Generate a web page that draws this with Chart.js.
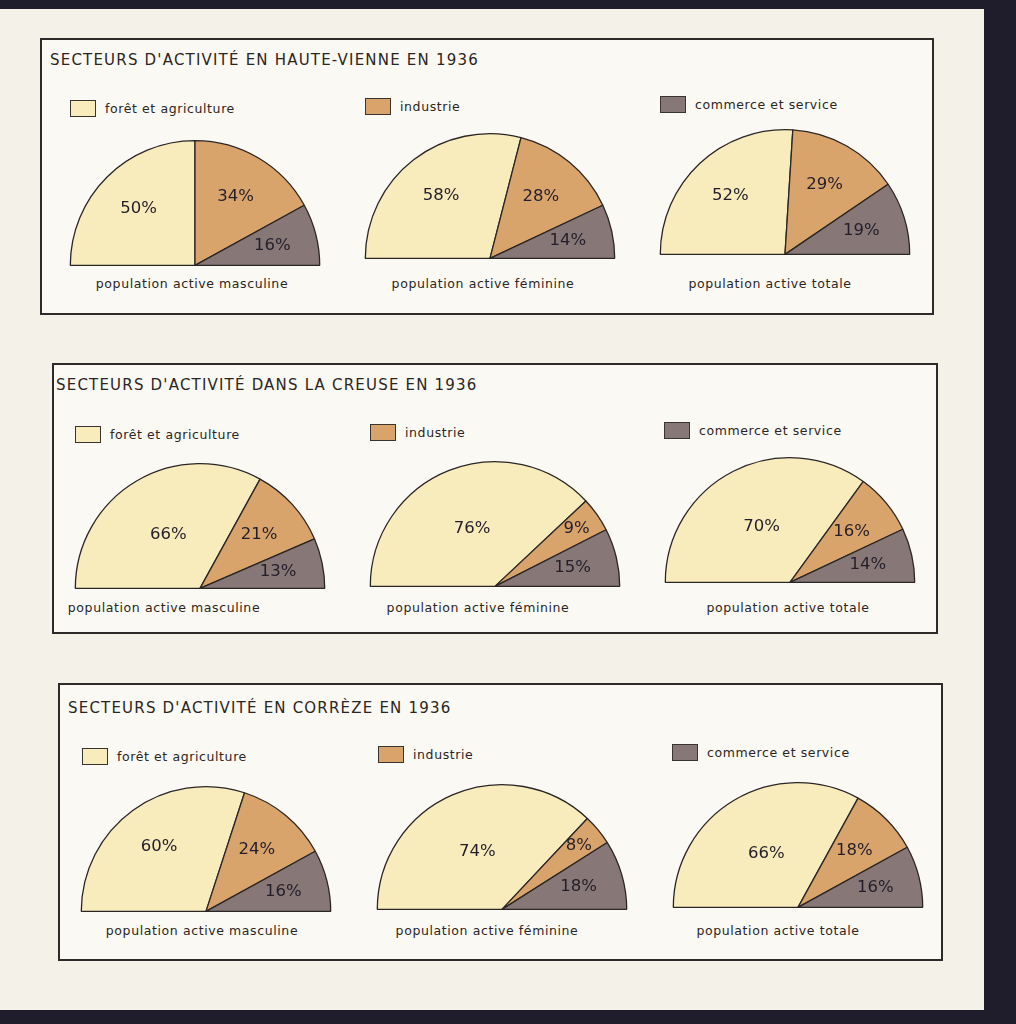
<!DOCTYPE html>
<html>
<head>
<meta charset="utf-8">
<script src="https://cdn.jsdelivr.net/npm/chart.js@4.4.1/dist/chart.umd.min.js"></script>
<style>
  html, body { margin: 0; padding: 0; }
  body { width: 1016px; height: 1024px; background: #1f1c2c; position: relative; overflow: hidden;
         font-family: "DejaVu Sans", sans-serif; color: #2b2622; }
  #paper { position: absolute; left: 0; top: 9px; width: 984px; height: 1001px; background: #f4f1e9; }
  .panel { position: absolute; border: 2px solid #2e2a2a; background: #fbf9f4; box-sizing: border-box; }
  .title { position: absolute; font-size: 15px; letter-spacing: 1.2px; white-space: nowrap; }
  .leg { position: absolute; font-size: 12.5px; letter-spacing: 0.6px; white-space: nowrap; display: flex; align-items: center; }
  .leg i { display: inline-block; width: 24px; height: 15px; border: 1.5px solid #3a3430; margin-right: 9px; }
  .cap { position: absolute; font-size: 12.5px; letter-spacing: 0.6px; white-space: nowrap; transform: translateX(-50%); }
  canvas { position: absolute; }
</style>
</head>
<body>
<div id="paper"></div>
<script>
// --- data ---
const categories = ['forêt et agriculture', 'industrie', 'commerce et service'];
const populations = ['population active masculine', 'population active féminine', 'population active totale'];
const titles = [
  "SECTEURS D'ACTIVITÉ EN HAUTE-VIENNE EN 1936",
  "SECTEURS D'ACTIVITÉ DANS LA CREUSE EN 1936",
  "SECTEURS D'ACTIVITÉ EN CORRÈZE EN 1936"
];
const hauteVienne = [[50, 34, 16], [58, 28, 14], [52, 29, 19]];
const creuse = [[66, 21, 13], [76, 9, 15], [70, 16, 14]];
const correze = [[60, 24, 16], [74, 8, 18], [66, 18, 16]];
const regions = [hauteVienne, creuse, correze];

const colors = ['#f8ecbd', '#d9a46c', '#877877'];

// --- layout (page pixels) ---
const layout = [
  { box: [40, 38, 894, 277], title: [50, 51], legend: [[70, 100], [365, 98], [660, 96]],
    pies: [[195, 265], [490, 258], [785, 254]], capY: 276, capX: [192, 483, 770] },
  { box: [52, 363, 886, 271], title: [56, 376], legend: [[75, 426], [370, 424], [664, 422]],
    pies: [[200, 588], [495, 586], [790, 582]], capY: 600, capX: [164, 478, 788] },
  { box: [58, 683, 885, 278], title: [68, 699], legend: [[82, 748], [378, 746], [672, 744]],
    pies: [[206, 911], [502, 909], [798, 907]], capY: 923, capX: [202, 487, 778] }
];
const R = 124;

const pctLabels = {
  id: 'pctLabels',
  afterDatasetsDraw(chart) {
    const ctx = chart.ctx;
    const meta = chart.getDatasetMeta(0);
    const data = chart.data.datasets[0].data;
    const total = data.reduce((a, b) => a + b, 0);
    ctx.save();
    ctx.font = '16.5px "DejaVu Sans"';
    ctx.fillStyle = '#231e2a';
    ctx.textAlign = 'center';
    ctx.textBaseline = 'middle';
    meta.data.forEach((arc, i) => {
      const p = arc.getProps(['x', 'y', 'startAngle', 'endAngle', 'outerRadius'], true);
      const mid = (p.startAngle + p.endAngle) / 2;
      const f = data[i] / total;
      const k = f > 0.6 ? 0.5 : (f < 0.12 ? 0.8 : 0.64);
      ctx.fillText(data[i] + '%', p.x + Math.cos(mid) * p.outerRadius * k, p.y + Math.sin(mid) * p.outerRadius * k);
    });
    ctx.restore();
  }
};

function add(el, parent) { (parent || document.body).appendChild(el); return el; }

layout.forEach((L, r) => {
  const panel = add(document.createElement('div'));
  panel.className = 'panel';
  Object.assign(panel.style, { left: L.box[0] + 'px', top: L.box[1] + 'px', width: L.box[2] + 'px', height: L.box[3] + 'px' });

  const t = add(document.createElement('div'));
  t.className = 'title';
  t.textContent = titles[r];
  Object.assign(t.style, { left: L.title[0] + 'px', top: L.title[1] + 'px' });

  categories.forEach((c, i) => {
    const lg = add(document.createElement('div'));
    lg.className = 'leg';
    lg.innerHTML = '<i style="background:' + colors[i] + '"></i><span></span>';
    lg.querySelector('span').textContent = c;
    Object.assign(lg.style, { left: L.legend[i][0] + 'px', top: L.legend[i][1] + 'px' });
  });

  L.pies.forEach((pc, j) => {
    const cv = add(document.createElement('canvas'));
    cv.width = 2 * R + 6;
    cv.height = R + 4;
    Object.assign(cv.style, { left: (pc[0] - R - 3) + 'px', top: (pc[1] - R - 2) + 'px' });
    new Chart(cv.getContext('2d'), {
      type: 'doughnut',
      data: {
        labels: categories,
        datasets: [{
          data: regions[r][j],
          backgroundColor: colors,
          borderColor: '#2b2626',
          borderWidth: 1.3
        }]
      },
      options: {
        responsive: false,
        animation: false,
        cutout: 0,
        rotation: -90,
        circumference: 180,
        layout: { padding: 1 },
        plugins: { legend: { display: false }, tooltip: { enabled: false } }
      },
      plugins: [pctLabels]
    });

    const cap = add(document.createElement('div'));
    cap.className = 'cap';
    cap.textContent = populations[j];
    Object.assign(cap.style, { left: L.capX[j] + 'px', top: L.capY + 'px' });
  });
});
</script>
</body>
</html>
